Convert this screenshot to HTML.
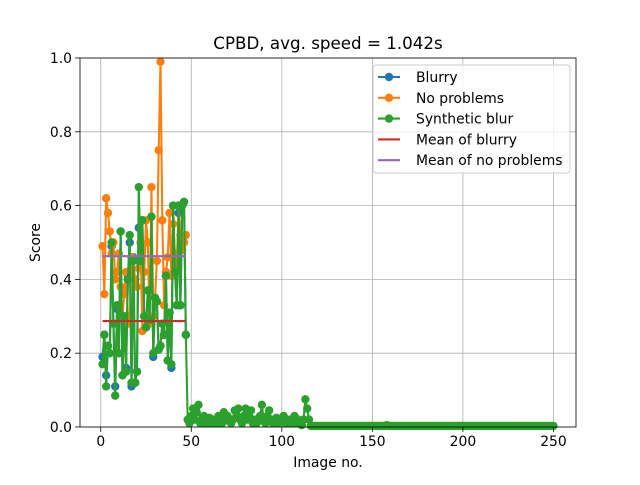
<!DOCTYPE html>
<html><head><meta charset="utf-8"><style>
body{margin:0;background:#fff}
svg text{font-family:"DejaVu Sans","Liberation Sans",sans-serif;fill:#000}
</style></head><body>
<svg id="chart" width="640" height="480" viewBox="0 0 640 480" xmlns="http://www.w3.org/2000/svg">
<rect width="640" height="480" fill="#fff"/>
<g id="grid"></g><g id="series"></g><g id="axes"></g><g id="legend"></g>
</svg>
<script>
const blurry = [0.19,0.25,0.14,0.22,0.2,0.49,0.28,0.11,0.32,0.2,0.53,0.14,0.3,0.16,0.41,0.5,0.11,0.46,0.12,0.15,0.54,0.44,0.56,0.3,0.27,0.37,0.29,0.57,0.19,0.35,0.34,0.21,0.22,0.28,0.25,0.41,0.18,0.31,0.16,0.6,0.42,0.33,0.58,0.33,0.6,0.61,0.25];
const noProblems = [0.49,0.36,0.62,0.58,0.53,0.47,0.5,0.4,0.42,0.47,0.38,0.3,0.36,0.42,0.3,0.28,0.46,0.45,0.4,0.38,0.43,0.5,0.26,0.42,0.56,0.5,0.28,0.65,0.3,0.35,0.45,0.75,0.99,0.56,0.33,0.42,0.46,0.58,0.41,0.55,0.47,0.44,0.6,0.52,0.48,0.5,0.52];
const synthHead = [0.17,0.25,0.11,0.22,0.2,0.5,0.28,0.085,0.33,0.2,0.53,0.14,0.3,0.15,0.4,0.52,0.12,0.45,0.12,0.15,0.65,0.45,0.56,0.3,0.27,0.37,0.29,0.57,0.2,0.35,0.34,0.21,0.22,0.28,0.25,0.41,0.18,0.31,0.17,0.6,0.42,0.33,0.6,0.33,0.6,0.61,0.25];
const synthNoise = [0.02,0.01,0.03,0.05,0.02,0.04,0.06,0.01,0.02,0.03,0.01,0.02,0.025,0.01,0.02,0.015,0.01,0.03,0.02,0.01,0.04,0.02,0.03,0.015,0.01,0.02,0.045,0.03,0.05,0.02,0.01,0.03,0.05,0.02,0.03,0.045,0.01,0.02,0.01,0.015,0.03,0.06,0.02,0.01,0.03,0.045,0.02,0.01,0.02,0.025,0.01,0.02,0.015,0.03,0.01,0.02,0.01,0.02,0.01,0.03,0.01,0.02,0.01,0.005,0.02,0.075,0.05,0.02];
const synthFlat = [
0.003,0.003,0.003,0.003,0.003,0.003,0.003,0.003,0.003,0.003,0.003,0.003,0.003,0.003,0.003,
0.003,0.003,0.003,0.003,0.003,0.003,0.003,0.003,0.003,0.003,0.003,0.003,0.003,0.003,0.003,
0.003,0.003,0.003,0.003,0.003,0.003,0.003,0.003,0.003,0.003,0.003,0.003,0.005,0.003,0.003,
0.003,0.003,0.003,0.003,0.003,0.003,0.003,0.003,0.003,0.003,0.003,0.003,0.003,0.003,0.003,
0.003,0.003,0.003,0.003,0.003,0.003,0.003,0.003,0.003,0.003,0.003,0.003,0.003,0.003,0.003,
0.003,0.003,0.003,0.003,0.003,0.003,0.003,0.003,0.003,0.003,0.003,0.003,0.003,0.003,0.003,
0.003,0.003,0.003,0.003,0.003,0.003,0.003,0.003,0.003,0.003,0.003,0.003,0.003,0.003,0.003,
0.003,0.003,0.003,0.003,0.003,0.003,0.003,0.003,0.003,0.003,0.003,0.003,0.003,0.003,0.003,
0.003,0.003,0.003,0.003,0.003,0.003,0.003,0.003,0.003,0.003,0.003,0.003,0.003,0.003,0.003];
const meanBlurry = 0.287;
const meanNoProblems = 0.463;
const xTicks = [0,50,100,150,200,250];
const yTicks = [0.0,0.2,0.4,0.6,0.8,1.0];
const legendLabels = ["Blurry","No problems","Synthetic blur","Mean of blurry","Mean of no problems"];

const L=80,R=576,T=58,B=427, XMIN=-11.45, XMAX=262.45;
const X=v=>L+(v-XMIN)/(XMAX-XMIN)*(R-L);
const Y=v=>B-v*(B-T);
const NS="http://www.w3.org/2000/svg";
function mk(tag,attrs,parent){const e=document.createElementNS(NS,tag);for(const k in attrs)e.setAttribute(k,attrs[k]);parent.appendChild(e);return e;}
const grid=document.getElementById('grid'),series=document.getElementById('series'),axes=document.getElementById('axes'),legend=document.getElementById('legend');

xTicks.forEach(t=>{
  const g=mk('line',{x1:X(t),x2:X(t),y1:T,y2:B,stroke:'#b0b0b0','stroke-width':0.8},grid);
  
  
  mk('line',{x1:X(t),x2:X(t),y1:B,y2:B+4.9,stroke:'#000','stroke-width':0.8},axes);
  const tx=mk('text',{x:X(t),y:B+19,'font-size':13.9,'text-anchor':'middle'},axes);tx.textContent=t;
  
  
});
yTicks.forEach(t=>{
  const g=mk('line',{x1:L,x2:R,y1:Y(t),y2:Y(t),stroke:'#b0b0b0','stroke-width':0.8},grid);
  
  
  mk('line',{x1:L-4.9,x2:L,y1:Y(t),y2:Y(t),stroke:'#000','stroke-width':0.8},axes);
  const tx=mk('text',{x:L-8,y:Y(t)+5,'font-size':13.9,'text-anchor':'end'},axes);tx.textContent=t.toFixed(1);
  
  
});

function drawSeries(vals,color,name){
  const g=mk('g',{},series);
  
  
  const pts=vals.map((v,i)=>X(i+1).toFixed(2)+','+Y(v).toFixed(2)).join(' ');
  mk('polyline',{points:pts,fill:'none',stroke:color,'stroke-width':2.08,'stroke-linejoin':'round'},g);
  vals.forEach((v,i)=>{const c=mk('circle',{cx:X(i+1),cy:Y(v),r:4.2,fill:color},g);
    
    });
}
const colors=['#1f77b4','#ff7f0e','#2ca02c','#d62728','#9467bd'];
drawSeries(blurry,colors[0],'blurry-series');
drawSeries(noProblems,colors[1],'no-problems-series');
drawSeries(synthHead.concat(synthNoise,synthFlat),colors[2],'synthetic-blur-series');
const m1=mk('line',{x1:X(1),x2:X(blurry.length),y1:Y(meanBlurry),y2:Y(meanBlurry),stroke:colors[3],'stroke-width':2.08},series);


const m2=mk('line',{x1:X(1),x2:X(noProblems.length),y1:Y(meanNoProblems),y2:Y(meanNoProblems),stroke:colors[4],'stroke-width':2.08},series);



const frame=mk('rect',{x:L,y:T,width:R-L,height:B-T,fill:'none',stroke:'#000','stroke-width':0.8},axes);


const title=mk('text',{x:(L+R)/2,y:49,'font-size':16.7,'text-anchor':'middle'},axes);title.textContent='CPBD, avg. speed = 1.042s';


const xl=mk('text',{x:(L+R)/2,y:467,'font-size':13.9,'text-anchor':'middle'},axes);xl.textContent='Image no.';


const yl=mk('text',{x:0,y:0,'font-size':13.9,'text-anchor':'middle',transform:'translate(40,'+((T+B)/2)+') rotate(-90)'},axes);yl.textContent='Score';



const lb=mk('rect',{x:373,y:65,width:197,height:108,rx:3,fill:'#fff','fill-opacity':0.8,stroke:'#ccc','stroke-width':1},legend);


legendLabels.forEach((lab,i)=>{
  const y=77+i*20.8;
  const g=mk('g',{},legend);
  
  
  mk('line',{x1:378,x2:400,y1:y,y2:y,stroke:colors[i],'stroke-width':2.08},g);
  if(i<3) mk('circle',{cx:389,cy:y,r:4.2,fill:colors[i]},g);
  const t=mk('text',{x:416,y:y+5,'font-size':13.9},g);t.textContent=lab;
});
</script>
</body></html>
